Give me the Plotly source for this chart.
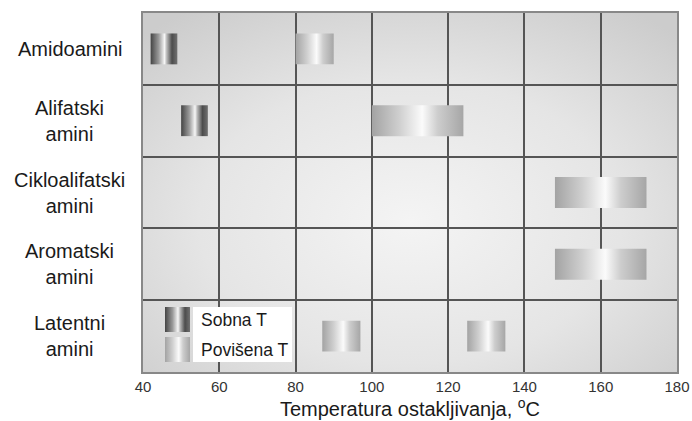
import base64
import plotly.graph_objects as go

# ---- data ----
categories = ["Amidoamini", "Alifatski<br>amini", "Cikloalifatski<br>amini",
              "Aromatski<br>amini", "Latentni<br>amini"]

sobna_cat = ["Amidoamini", "Alifatski<br>amini"]
sobna_lo = [42, 50]
sobna_hi = [49, 57]

povisena_cat = ["Amidoamini", "Alifatski<br>amini", "Cikloalifatski<br>amini",
                "Aromatski<br>amini", "Latentni<br>amini", "Latentni<br>amini"]
povisena_lo = [80, 100, 148, 148, 87, 125]
povisena_hi = [90, 124, 172, 172, 97, 135]

x_ticks = [40, 60, 80, 100, 120, 140, 160, 180]
legend_names = ["Sobna T", "Povišena T"]
x_title = "Temperatura ostakljivanja, <sup>o</sup>C"

# ---- styles ----
FONT = "Liberation Sans, Arial, sans-serif"
SOBNA_CS = [[0, "#444444"], [0.3, "#999999"], [0.52, "#f6f6f6"], [0.6, "#bbbbbb"],
            [0.8, "#4c4c4c"], [1, "#707070"]]
POV_CS = [[0, "#a3a3a3"], [0.3, "#cfcfcf"], [0.55, "#fbfbfb"], [0.72, "#cdcdcd"],
          [1, "#a6a6a6"]]
HALF = 0.215

fig = go.Figure()
cat_index = {c: i for i, c in enumerate(categories)}


def add_bar(lo, hi, yc, cs, xa="x", ya="y"):
    fig.add_trace(go.Scatter(
        x=[lo, hi, hi, lo, lo],
        y=[yc - HALF, yc - HALF, yc + HALF, yc + HALF, yc - HALF],
        xaxis=xa, yaxis=ya,
        fill="toself", mode="lines", line=dict(width=0),
        fillgradient=dict(type="horizontal", colorscale=cs),
        hoverinfo="skip", showlegend=False))


for c, lo, hi in zip(sobna_cat, sobna_lo, sobna_hi):
    add_bar(lo, hi, cat_index[c], SOBNA_CS)
for c, lo, hi in zip(povisena_cat, povisena_lo, povisena_hi):
    add_bar(lo, hi, cat_index[c], POV_CS)

# legend swatches on a small helper axis
fig.add_trace(go.Scatter(x=[0, 1, 1, 0, 0], y=[1.2, 1.2, 2.2, 2.2, 1.2], xaxis="x2", yaxis="y2",
                         fill="toself", mode="lines", line=dict(width=0),
                         fillgradient=dict(type="horizontal", colorscale=SOBNA_CS),
                         hoverinfo="skip", showlegend=False))
fig.add_trace(go.Scatter(x=[0, 1, 1, 0, 0], y=[0, 0, 1, 1, 0], xaxis="x2", yaxis="y2",
                         fill="toself", mode="lines", line=dict(width=0),
                         fillgradient=dict(type="horizontal", colorscale=POV_CS),
                         hoverinfo="skip", showlegend=False))

# background radial gradient as svg image
svg = ('<svg xmlns="http://www.w3.org/2000/svg" width="534" height="359" '
       'preserveAspectRatio="none"><defs><radialGradient id="g" cx="0.5" cy="0.58" r="0.72">'
       '<stop offset="0" stop-color="#f4f4f4"/><stop offset="0.55" stop-color="#e5e5e5"/>'
       '<stop offset="1" stop-color="#cccccc"/></radialGradient></defs>'
       '<rect width="534" height="359" fill="url(#g)"/></svg>')
src = "data:image/svg+xml;base64," + base64.b64encode(svg.encode()).decode()

annotations = []
for i, c in enumerate(categories):
    annotations.append(dict(text=c, x=-0.137, xref="paper", y=i, yref="y",
                            xanchor="center", yanchor="middle", align="center",
                            showarrow=False, font=dict(size=20, color="#1a1a1a", family=FONT)))
annotations.append(dict(text=legend_names[0], x=0.105, xref="paper", y=0.145, yref="paper",
                        xanchor="left", yanchor="middle", showarrow=False,
                        font=dict(size=17.5, color="#1a1a1a", family=FONT)))
annotations.append(dict(text=legend_names[1], x=0.105, xref="paper", y=0.061, yref="paper",
                        xanchor="left", yanchor="middle", showarrow=False,
                        font=dict(size=17.5, color="#1a1a1a", family=FONT)))

fig.update_layout(
    width=692, height=421,
    margin=dict(l=143, r=15, t=13, b=49),
    paper_bgcolor="white", plot_bgcolor="rgba(0,0,0,0)",
    font=dict(family=FONT, color="#222"),
    showlegend=False,
    images=[dict(source=src, xref="paper", yref="paper", x=0, y=1, sizex=1, sizey=1,
                 xanchor="left", yanchor="top", sizing="stretch", layer="below")],
    shapes=[dict(type="rect", xref="paper", yref="paper", x0=0.0936, x1=0.279,
                 y0=0.0279, y1=0.181, fillcolor="white", line=dict(width=0), layer="above")],
    annotations=annotations,
    xaxis=dict(range=[40, 180], tickvals=x_ticks, showgrid=True, gridcolor="#555",
               gridwidth=1.5, showline=True, mirror=True, linecolor="#888", linewidth=2,
               ticks="", zeroline=False, tickfont=dict(size=15, color="#333"),
               automargin=False,
               title=dict(text=x_title, font=dict(size=20, color="#1a1a1a"), standoff=6)),
    yaxis=dict(range=[4.5, -0.5], tickvals=[0.5, 1.5, 2.5, 3.5], showgrid=True,
               gridcolor="#555", gridwidth=1.5, showticklabels=False, showline=True,
               mirror=True, linecolor="#888", linewidth=2, ticks="", zeroline=False),
    xaxis2=dict(domain=[0.0412, 0.088], range=[0, 1], anchor="y2", visible=False,
                fixedrange=True),
    yaxis2=dict(domain=[0.0279, 0.181], range=[0, 2.2], anchor="x2", visible=False,
                fixedrange=True),
)

# remove the browser's default 8px body margin so the figure fills the window exactly
fig.write_html("out.html",
               config={"displayModeBar": False},
               post_script="document.body.style.margin='0';document.body.style.overflow='hidden';")
